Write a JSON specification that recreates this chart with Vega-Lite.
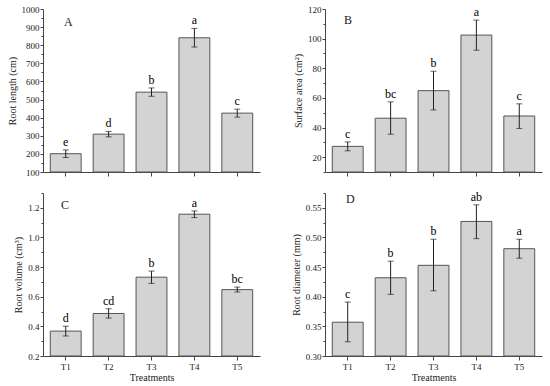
{
  "$schema": "https://vega.github.io/schema/vega-lite/v6.json",
  "padding": {"left": 7, "top": 5, "right": 5, "bottom": 5},
  "background": "white",
  "datasets": {
    "d": [
      {"panel": "A", "treatment": "T1", "mean": 201, "lo": 180, "hi": 222, "letter": "e"},
      {"panel": "A", "treatment": "T2", "mean": 309, "lo": 294, "hi": 324, "letter": "d"},
      {"panel": "A", "treatment": "T3", "mean": 541, "lo": 518, "hi": 564, "letter": "b"},
      {"panel": "A", "treatment": "T4", "mean": 841, "lo": 790, "hi": 893, "letter": "a"},
      {"panel": "A", "treatment": "T5", "mean": 425, "lo": 403, "hi": 447, "letter": "c"},
      {"panel": "B", "treatment": "T1", "mean": 27.3, "lo": 24.3, "hi": 30.3, "letter": "c"},
      {"panel": "B", "treatment": "T2", "mean": 46.3, "lo": 35.5, "hi": 57.3, "letter": "bc"},
      {"panel": "B", "treatment": "T3", "mean": 64.9, "lo": 51.9, "hi": 78.0, "letter": "b"},
      {"panel": "B", "treatment": "T4", "mean": 102.4, "lo": 92.2, "hi": 112.5, "letter": "a"},
      {"panel": "B", "treatment": "T5", "mean": 47.8, "lo": 39.4, "hi": 56.0, "letter": "c"},
      {"panel": "C", "treatment": "T1", "mean": 0.368, "lo": 0.335, "hi": 0.401, "letter": "d"},
      {"panel": "C", "treatment": "T2", "mean": 0.487, "lo": 0.456, "hi": 0.519, "letter": "cd"},
      {"panel": "C", "treatment": "T3", "mean": 0.732, "lo": 0.690, "hi": 0.773, "letter": "b"},
      {"panel": "C", "treatment": "T4", "mean": 1.157, "lo": 1.134, "hi": 1.179, "letter": "a"},
      {"panel": "C", "treatment": "T5", "mean": 0.648, "lo": 0.632, "hi": 0.665, "letter": "bc"},
      {"panel": "D", "treatment": "T1", "mean": 0.357, "lo": 0.324, "hi": 0.391, "letter": "c"},
      {"panel": "D", "treatment": "T2", "mean": 0.432, "lo": 0.404, "hi": 0.460, "letter": "b"},
      {"panel": "D", "treatment": "T3", "mean": 0.453, "lo": 0.410, "hi": 0.497, "letter": "b"},
      {"panel": "D", "treatment": "T4", "mean": 0.527, "lo": 0.498, "hi": 0.555, "letter": "ab"},
      {"panel": "D", "treatment": "T5", "mean": 0.481, "lo": 0.465, "hi": 0.497, "letter": "a"}
    ]
  },
  "columns": 2,
  "spacing": {"row": 21, "column": 65},
  "bounds": "flush",
  "concat": [
    {
      "width": 217, "height": 163,
      "title": {"text": "A", "anchor": "start", "frame": "group", "dx": 21, "dy": 28},
      "data": {"name": "d"},
      "transform": [{"filter": "datum.panel == 'A'"}],
      "encoding": {
        "x": {"field": "treatment", "type": "nominal", "scale": {"paddingInner": 0.28, "paddingOuter": 0.17},
              "axis": {"labels": false, "title": null, "ticks": true, "tickSize": 4, "domain": true, "domainColor": "#444444"}}
      },
      "layer": [
        {"mark": {"type": "bar", "fill": "#d3d3d3", "stroke": "#555555", "strokeWidth": 1},
         "encoding": {"y": {"field": "mean", "type": "quantitative", "title": "Root length (cm)", "scale": {"domain": [100, 1000], "nice": false, "zero": false},
           "axis": {"values": [100,150,200,250,300,350,400,450,500,550,600,650,700,750,800,850,900,950,1000], "format": "d", "labelOverlap": false,
                    "labelExpr": "datum.value % 100 == 0 ? datum.label : ''",
                    "tickSize": {"condition": {"test": "datum.value % 100 != 0", "value": 2}, "value": 3}}},
                      "y2": {"datum": 100}}},
        {"mark": {"type": "errorbar", "ticks": {"size": 6, "color": "#222222"}, "rule": {"color": "#222222"}},
         "encoding": {"y": {"field": "lo", "type": "quantitative", "title": "Root length (cm)",
           "axis": {"values": [100,150,200,250,300,350,400,450,500,550,600,650,700,750,800,850,900,950,1000], "format": "d", "labelOverlap": false,
                    "labelExpr": "datum.value % 100 == 0 ? datum.label : ''",
                    "tickSize": {"condition": {"test": "datum.value % 100 != 0", "value": 2}, "value": 3}}}, "y2": {"field": "hi"}}},
        {"mark": {"type": "text", "baseline": "bottom", "dy": -1, "font": "Liberation Serif", "fontSize": 12},
         "encoding": {"y": {"field": "hi", "type": "quantitative", "title": "Root length (cm)",
           "axis": {"values": [100,150,200,250,300,350,400,450,500,550,600,650,700,750,800,850,900,950,1000], "format": "d", "labelOverlap": false,
                    "labelExpr": "datum.value % 100 == 0 ? datum.label : ''",
                    "tickSize": {"condition": {"test": "datum.value % 100 != 0", "value": 2}, "value": 3}}}, "text": {"field": "letter"}}}
      ]
    },
    {
      "width": 217, "height": 163,
      "title": {"text": "B", "anchor": "start", "frame": "group", "dx": 19, "dy": 26},
      "data": {"name": "d"},
      "transform": [{"filter": "datum.panel == 'B'"}],
      "encoding": {
        "x": {"field": "treatment", "type": "nominal", "scale": {"paddingInner": 0.28, "paddingOuter": 0.17},
              "axis": {"labels": false, "title": null, "ticks": true, "tickSize": 4, "domain": true, "domainColor": "#444444"}}
      },
      "layer": [
        {"mark": {"type": "bar", "fill": "#d3d3d3", "stroke": "#555555", "strokeWidth": 1},
         "encoding": {"y": {"field": "mean", "type": "quantitative", "title": "Surface area (cm²)", "scale": {"domain": [10, 120], "nice": false, "zero": false},
           "axis": {"values": [10,20,30,40,50,60,70,80,90,100,110,120], "labelOverlap": false,
                    "labelExpr": "datum.value % 20 == 0 ? datum.label : ''",
                    "tickSize": {"condition": {"test": "datum.value % 20 != 0", "value": 2}, "value": 3}}},
                      "y2": {"datum": 10}}},
        {"mark": {"type": "errorbar", "ticks": {"size": 6, "color": "#222222"}, "rule": {"color": "#222222"}},
         "encoding": {"y": {"field": "lo", "type": "quantitative", "title": "Surface area (cm²)",
           "axis": {"values": [10,20,30,40,50,60,70,80,90,100,110,120], "labelOverlap": false,
                    "labelExpr": "datum.value % 20 == 0 ? datum.label : ''",
                    "tickSize": {"condition": {"test": "datum.value % 20 != 0", "value": 2}, "value": 3}}}, "y2": {"field": "hi"}}},
        {"mark": {"type": "text", "baseline": "bottom", "dy": -1, "font": "Liberation Serif", "fontSize": 12},
         "encoding": {"y": {"field": "hi", "type": "quantitative", "title": "Surface area (cm²)",
           "axis": {"values": [10,20,30,40,50,60,70,80,90,100,110,120], "labelOverlap": false,
                    "labelExpr": "datum.value % 20 == 0 ? datum.label : ''",
                    "tickSize": {"condition": {"test": "datum.value % 20 != 0", "value": 2}, "value": 3}}}, "text": {"field": "letter"}}}
      ]
    },
    {
      "width": 217, "height": 163,
      "title": {"text": "C", "anchor": "start", "frame": "group", "dx": 18, "dy": 27},
      "data": {"name": "d"},
      "transform": [{"filter": "datum.panel == 'C'"}],
      "encoding": {
        "x": {"field": "treatment", "type": "nominal", "scale": {"paddingInner": 0.28, "paddingOuter": 0.17},
              "axis": {"title": "Treatments", "labelAngle": 0, "labelPadding": 2, "titlePadding": 1, "ticks": true, "tickSize": 4, "domain": true, "domainColor": "#444444"}}
      },
      "layer": [
        {"mark": {"type": "bar", "fill": "#d3d3d3", "stroke": "#555555", "strokeWidth": 1},
         "encoding": {"y": {"field": "mean", "type": "quantitative", "title": "Root volume (cm³)", "scale": {"domain": [0.2, 1.3], "nice": false, "zero": false},
           "axis": {"values": [0.2,0.3,0.4,0.5,0.6,0.7,0.8,0.9,1.0,1.1,1.2,1.3], "format": ".1f", "labelOverlap": false,
                    "labelExpr": "round(datum.value * 10) % 2 == 0 ? datum.label : ''",
                    "tickSize": {"condition": {"test": "round(datum.value * 10) % 2 != 0", "value": 2}, "value": 3}}},
                      "y2": {"datum": 0.2}}},
        {"mark": {"type": "errorbar", "ticks": {"size": 6, "color": "#222222"}, "rule": {"color": "#222222"}},
         "encoding": {"y": {"field": "lo", "type": "quantitative", "title": "Root volume (cm³)",
           "axis": {"values": [0.2,0.3,0.4,0.5,0.6,0.7,0.8,0.9,1.0,1.1,1.2,1.3], "format": ".1f", "labelOverlap": false,
                    "labelExpr": "round(datum.value * 10) % 2 == 0 ? datum.label : ''",
                    "tickSize": {"condition": {"test": "round(datum.value * 10) % 2 != 0", "value": 2}, "value": 3}}}, "y2": {"field": "hi"}}},
        {"mark": {"type": "text", "baseline": "bottom", "dy": -1, "font": "Liberation Serif", "fontSize": 12},
         "encoding": {"y": {"field": "hi", "type": "quantitative", "title": "Root volume (cm³)",
           "axis": {"values": [0.2,0.3,0.4,0.5,0.6,0.7,0.8,0.9,1.0,1.1,1.2,1.3], "format": ".1f", "labelOverlap": false,
                    "labelExpr": "round(datum.value * 10) % 2 == 0 ? datum.label : ''",
                    "tickSize": {"condition": {"test": "round(datum.value * 10) % 2 != 0", "value": 2}, "value": 3}}}, "text": {"field": "letter"}}}
      ]
    },
    {
      "width": 217, "height": 163,
      "title": {"text": "D", "anchor": "start", "frame": "group", "dx": 21, "dy": 21},
      "data": {"name": "d"},
      "transform": [{"filter": "datum.panel == 'D'"}],
      "encoding": {
        "x": {"field": "treatment", "type": "nominal", "scale": {"paddingInner": 0.28, "paddingOuter": 0.17},
              "axis": {"title": "Treatments", "labelAngle": 0, "labelPadding": 2, "titlePadding": 1, "ticks": true, "tickSize": 4, "domain": true, "domainColor": "#444444"}}
      },
      "layer": [
        {"mark": {"type": "bar", "fill": "#d3d3d3", "stroke": "#555555", "strokeWidth": 1},
         "encoding": {"y": {"field": "mean", "type": "quantitative", "title": "Root diameter (mm)", "scale": {"domain": [0.3, 0.575], "nice": false, "zero": false},
           "axis": {"values": [0.3,0.325,0.35,0.375,0.4,0.425,0.45,0.475,0.5,0.525,0.55,0.575], "format": ".2f", "labelOverlap": false,
                    "labelExpr": "round(datum.value * 1000) % 50 == 0 ? datum.label : ''",
                    "tickSize": {"condition": {"test": "round(datum.value * 1000) % 50 != 0", "value": 2}, "value": 3}}},
                      "y2": {"datum": 0.3}}},
        {"mark": {"type": "errorbar", "ticks": {"size": 6, "color": "#222222"}, "rule": {"color": "#222222"}},
         "encoding": {"y": {"field": "lo", "type": "quantitative", "title": "Root diameter (mm)",
           "axis": {"values": [0.3,0.325,0.35,0.375,0.4,0.425,0.45,0.475,0.5,0.525,0.55,0.575], "format": ".2f", "labelOverlap": false,
                    "labelExpr": "round(datum.value * 1000) % 50 == 0 ? datum.label : ''",
                    "tickSize": {"condition": {"test": "round(datum.value * 1000) % 50 != 0", "value": 2}, "value": 3}}}, "y2": {"field": "hi"}}},
        {"mark": {"type": "text", "baseline": "bottom", "dy": -1, "font": "Liberation Serif", "fontSize": 12},
         "encoding": {"y": {"field": "hi", "type": "quantitative", "title": "Root diameter (mm)",
           "axis": {"values": [0.3,0.325,0.35,0.375,0.4,0.425,0.45,0.475,0.5,0.525,0.55,0.575], "format": ".2f", "labelOverlap": false,
                    "labelExpr": "round(datum.value * 1000) % 50 == 0 ? datum.label : ''",
                    "tickSize": {"condition": {"test": "round(datum.value * 1000) % 50 != 0", "value": 2}, "value": 3}}}, "text": {"field": "letter"}}}
      ]
    }
  ],
  "config": {
    "view": {"stroke": null},
    "font": "Liberation Serif",
    "axis": {
      "labelFont": "Liberation Serif", "titleFont": "Liberation Serif",
      "labelFontSize": 9, "titleFontSize": 10, "titleFontWeight": "normal",
      "labelColor": "#222222", "titleColor": "#222222",
      "domainColor": "#444444", "tickColor": "#444444",
      "grid": false, "tickSize": 3, "labelPadding": 1, "titlePadding": 4,
      "labelOverlap": false
    },
    "title": {"font": "Liberation Serif", "fontSize": 12, "fontWeight": "normal", "color": "#222222", "offset": 0}
  }
}
